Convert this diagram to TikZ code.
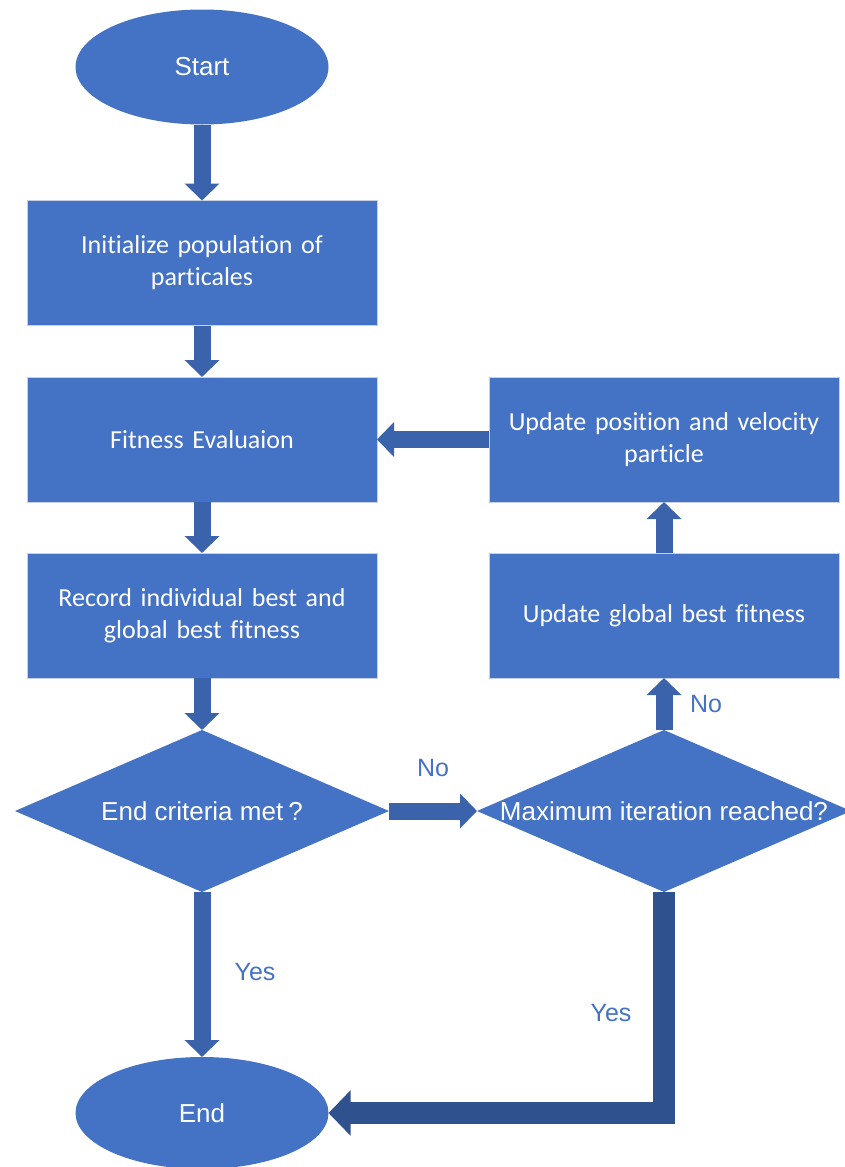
\documentclass[tikz,border=0pt]{standalone}
\usepackage{fontspec}
\setmainfont{Liberation Sans}
\newfontfamily\calibrifont[Ligatures=NoCommon]{Carlito}
\usetikzlibrary{shapes.geometric, arrows.meta}

\definecolor{shapeblue}{HTML}{4472C4}
\definecolor{arrowblue}{HTML}{3B63AC}
\definecolor{darkblue}{HTML}{2F528F}
\definecolor{edgegray}{HTML}{C9D1E0}

\tikzset{
  procbox/.style={rectangle, fill=shapeblue, draw=edgegray, line width=0.7pt,
    minimum width=350pt, minimum height=125pt, inner sep=0pt, outer sep=0pt,
    text=white, align=center, text width=335pt,
    font=\calibrifont\fontsize{26}{32}\selectfont},
  terminal/.style={ellipse, fill=shapeblue, draw=none,
    minimum width=253pt, minimum height=115pt, inner sep=0pt, outer sep=0pt,
    text=white, font=\fontsize{26}{30}\selectfont},
  decision/.style={diamond, fill=shapeblue, draw=none,
    minimum width=374pt, minimum height=162pt, inner sep=0pt, outer sep=0pt},
  dectext/.style={text=white, font=\fontsize{26}{30}\selectfont, inner sep=0pt},
  flowarrow/.style={draw=arrowblue, line width=17pt, line cap=butt,
    -{Triangle[width=34pt,length=17pt]}},
  yesarrow/.style={draw=darkblue, line width=22pt, line cap=butt, line join=miter,
    -{Triangle[width=44pt,length=22pt]}},
  lbl/.style={text=shapeblue, font=\fontsize{25}{30}\selectfont, inner sep=0pt}
}

\begin{document}
\begin{tikzpicture}[x=1pt, y=1pt]
  \useasboundingbox (0,0) rectangle (844,-1167);

  % main column
  \node[terminal] (start) at (202,-67) {Start};
  \node[procbox] (init) at (202,-263) {Initialize population of\\particales};
  \node[procbox] (fit) at (202,-439.5) {Fitness Evaluaion};
  \node[procbox] (rec) at (202,-615.5) {Record individual best and\\global best fitness};
  \node[decision] (dec1) at (202,-811) {};
  \node[dectext] (dec1txt) at (dec1.center) {End criteria met\hspace{5pt}?};
  \node[terminal, minimum height=112pt] (end) at (202,-1113) {End};

  % update column
  \node[decision] (dec2) at (664,-811) {};
  \node[dectext] (dec2txt) at (dec2.center) {Maximum iteration reached?};
  \node[procbox] (gbest) at (664,-615.5) {Update global best fitness};
  \node[procbox] (upd) at (664,-439.5) {Update position and velocity\\particle};

  % connectors
  \draw[flowarrow] (start.south) -- (init.north);
  \draw[flowarrow] (init.south) -- (fit.north);
  \draw[flowarrow] (fit.south) -- (rec.north);
  \draw[flowarrow] (rec.south) -- (dec1.north);
  \draw[flowarrow] (dec1.east) -- (dec2.west)
    node[lbl, midway, yshift=43pt] (nolbl1) {No};
  \draw[flowarrow] (dec2.north) -- (gbest.south)
    node[lbl, midway, xshift=42pt] (nolbl2) {No};
  \draw[flowarrow] (gbest.north) -- (upd.south);
  \draw[flowarrow] (upd.west) -- (fit.east);
  \draw[flowarrow] (dec1.south) -- (end.north)
    node[lbl, midway, xshift=53pt, yshift=2pt] (yeslbl1) {Yes};
  \draw[yesarrow] (dec2.south) |- (end.east)
    node[lbl, pos=0.274, xshift=-53pt] (yeslbl2) {Yes};
\end{tikzpicture}
\end{document}
